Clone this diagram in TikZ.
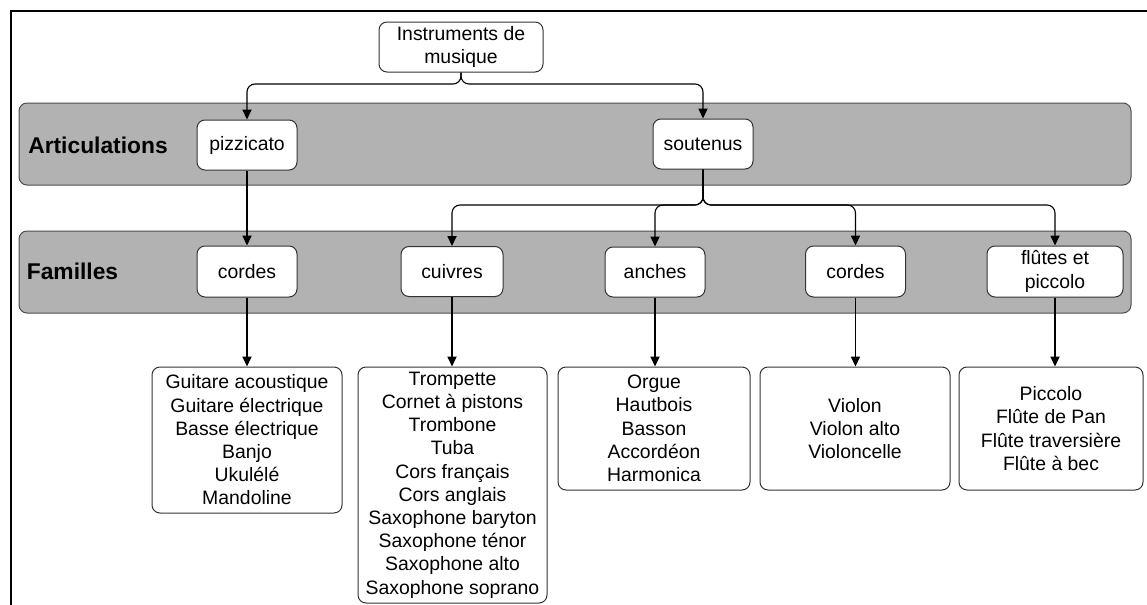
\documentclass[tikz,border=0pt]{standalone}
\usepackage{fontspec}
\setmainfont{Liberation Sans}
\usetikzlibrary{arrows.meta}
\begin{document}
\begin{tikzpicture}[x=0.5pt,y=-0.5pt,
  band/.style={draw=black!70, fill=black!30, rounded corners=4pt, line width=0.5pt, inner sep=0pt},
  lab/.style={font=\fontsize{11.4}{13}\selectfont\bfseries, anchor=center, inner sep=0pt},
  box/.style={draw=black!80, fill=white, rounded corners=4pt, line width=0.5pt, align=center, inner sep=0pt, font=\fontsize{9.7}{11.6}\selectfont},
  conn/.style={line width=0.55pt, rounded corners=4pt},
  arr/.style={conn, -{Triangle[length=5pt,width=4.6pt]}}
]
\useasboundingbox (0,0) rectangle (1147,605);
\draw[line width=0.8pt] (11,605) -- (11,11) -- (1147,11);

% bands
\node[band, minimum width=556pt, minimum height=41pt] (band1) at (575,144) {};
\node[band, minimum width=556pt, minimum height=41pt] (band2) at (575,272) {};
\node[lab] (artic) at (98,145) {Articulations};
\node[lab] (fam) at (72.5,271) {Familles};

% nodes
\node[box, minimum width=82pt, minimum height=25pt] (root) at (461,47) {Instruments de\\musique};
\node[box, minimum width=50pt, minimum height=25pt] (pizz) at (247,145) {pizzicato};
\node[box, minimum width=50pt, minimum height=25pt] (sout) at (703,144) {soutenus};
\node[box, minimum width=50pt, minimum height=25.5pt] (cor1) at (247,271.5) {cordes};
\node[box, minimum width=51pt, minimum height=25pt] (cuiv) at (452,271.5) {cuivres};
\node[box, minimum width=50pt, minimum height=25pt] (anch) at (655,272) {anches};
\node[box, minimum width=50pt, minimum height=25.5pt] (cor2) at (855.5,271.5) {cordes};
\node[box, minimum width=68pt, minimum height=25.5pt] (flut) at (1055,271.5) {flûtes et\\piccolo};

% lists
\node[box, minimum width=95pt, minimum height=73pt] (l1) at (247,440) {Guitare acoustique\\Guitare électrique\\Basse électrique\\Banjo\\Ukulélé\\Mandoline};
\node[box, minimum width=94.5pt, minimum height=118pt] (l2) at (452.5,485) {Trompette\\Cornet à pistons\\Trombone\\Tuba\\Cors français\\Cors anglais\\Saxophone baryton\\Saxophone ténor\\Saxophone alto\\Saxophone soprano};
\node[box, minimum width=96pt, minimum height=61.5pt] (l3) at (654,428.5) {Orgue\\Hautbois\\Basson\\Accordéon\\Harmonica};
\node[box, minimum width=95pt, minimum height=61.5pt] (l4) at (855,428.5) {Violon\\Violon alto\\Violoncelle};
\node[box, minimum width=92pt, minimum height=61.5pt] (l5) at (1051,428.5) {Piccolo\\Flûte de Pan\\Flûte traversière\\Flûte à bec};

% connectors
\coordinate (j1) at (461,84);
\coordinate (j2) at (703,205);
\draw[arr] (root.south) -- (j1) -| (pizz.north);
\draw[arr] (root.south) -- (j1) -| (sout.north);
\draw[arr] (pizz.south) -- (cor1.north);
\draw[arr] (sout.south) -- (j2) -| (cuiv.north);
\draw[arr] (sout.south) -- (j2) -| (anch.north);
\draw[arr] (sout.south) -- (j2) -| (cor2.north);
\draw[arr] (sout.south) -- (j2) -| (flut.north);
\draw[arr] (cor1.south) -- (cor1.south |- l1.north);
\draw[arr] (cuiv.south) -- (cuiv.south |- l2.north);
\draw[arr] (anch.south) -- (anch.south |- l3.north);
\draw[arr] (cor2.south) -- (cor2.south |- l4.north);
\draw[arr] (flut.south) -- (flut.south |- l5.north);
\end{tikzpicture}
\end{document}
